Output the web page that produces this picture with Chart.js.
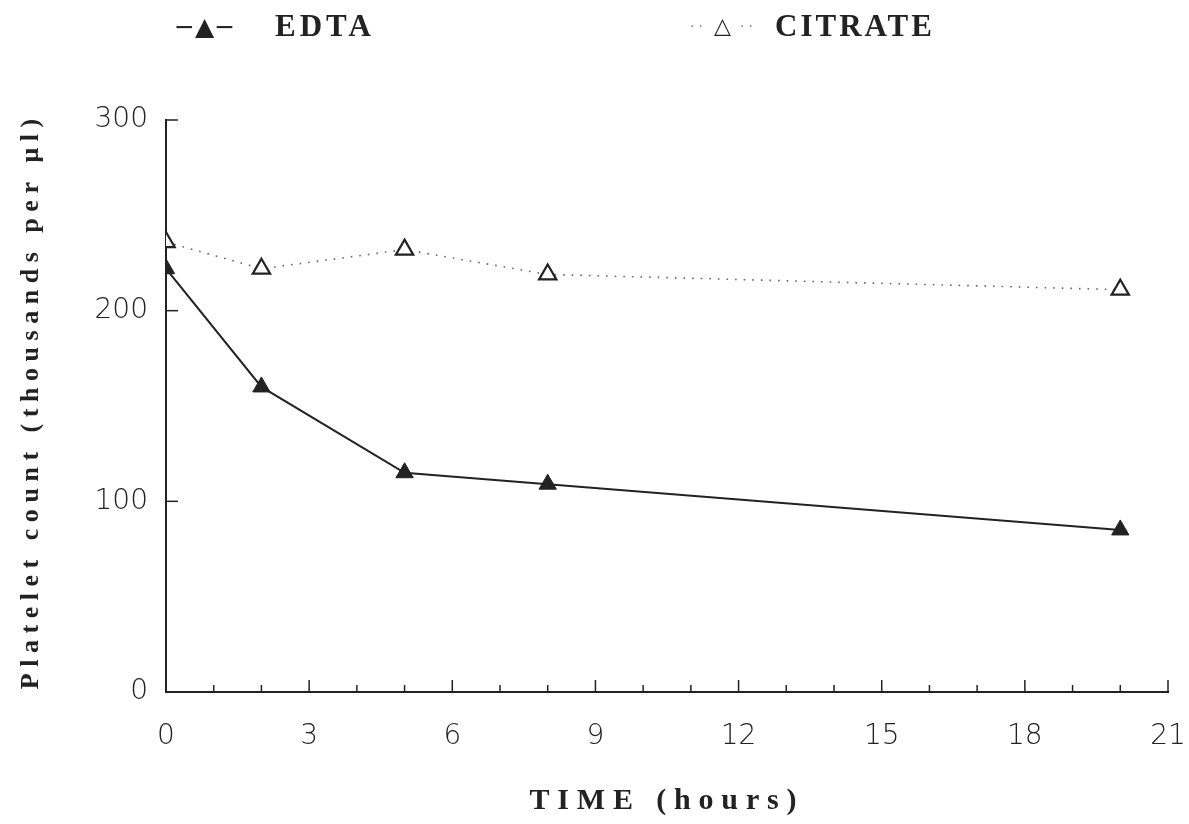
<!DOCTYPE html>
<html>
<head>
<meta charset="utf-8">
<script src="https://cdn.jsdelivr.net/npm/chart.js@4.4.1/dist/chart.umd.min.js"></script>
<style>
  html, body { margin: 0; padding: 0; background: #fff; }
  #wrap { position: relative; width: 1189px; height: 824px; }
  canvas { position: absolute; left: 0; top: 0; }
  .leg { position: absolute; top: 9px; font-family: "Liberation Serif", "DejaVu Serif", serif; font-weight: bold; font-size: 31px; color: #222; white-space: nowrap; line-height: 34px; }
  .mk { position: absolute; font-family: "DejaVu Sans", sans-serif; white-space: nowrap; color: #222; line-height: 34px; }
</style>
</head>
<body>
<div id="wrap">
  <canvas id="c" width="1189" height="824"></canvas>
  <div class="mk" style="left:174px;top:10px;font-size:25px;">−▲−</div>
  <div class="leg" style="left:275px;letter-spacing:4px;">EDTA</div>
  <div class="mk" style="left:690px;top:9px;font-size:14px;color:#888;letter-spacing:4px;">··</div>
  <div class="mk" style="left:714px;top:9px;font-size:22px;">△</div>
  <div class="mk" style="left:740px;top:9px;font-size:14px;color:#888;letter-spacing:4px;">··</div>
  <div class="leg" style="left:775px;letter-spacing:3px;">CITRATE</div>
</div>
<script>
const hours = [0, 2, 5, 8, 20];
const edta = [222, 160, 115, 109, 85];
const citrate = [236, 222, 232, 219, 211];
const xTickLabels = [0, 3, 6, 9, 12, 15, 18, 21];
const yTickLabels = [0, 100, 200, 300];
const seriesNames = ['EDTA', 'CITRATE'];
const xTitle = 'TIME (hours)';
const yTitle = 'Platelet count (thousands per μl)';

const ink = '#222';

function spacedText(ctx, text, x, y, target) {
  ctx.letterSpacing = '0px';
  const w = ctx.measureText(text).width;
  const sp = Math.max(0, (target - w) / text.length);
  ctx.letterSpacing = sp + 'px';
  ctx.fillText(text, x + sp / 2, y);
}

const insideTicks = {
  id: 'insideTicks',
  afterDraw(chart) {
    const ctx = chart.ctx;
    const xs = chart.scales.x, ys = chart.scales.y;
    const area = chart.chartArea;
    ctx.save();
    ctx.strokeStyle = ink;
    ctx.lineWidth = 1.5;
    for (let h = xs.min; h <= xs.max; h++) {
      const px = xs.getPixelForValue(h);
      const len = (h % 3 === 0) ? 12 : 7;
      if (h === 0) continue;
      ctx.beginPath();
      ctx.moveTo(px, area.bottom);
      ctx.lineTo(px, area.bottom - len);
      ctx.stroke();
    }
    yTickLabels.forEach(v => {
      if (v === 0) return;
      const py = ys.getPixelForValue(v);
      ctx.beginPath();
      ctx.moveTo(area.left, py);
      ctx.lineTo(area.left + 12, py);
      ctx.stroke();
    });
    // titles
    ctx.fillStyle = ink;
    ctx.textAlign = 'center';
    ctx.textBaseline = 'middle';
    ctx.font = 'bold 30px "Liberation Serif", "DejaVu Serif", serif';
    spacedText(ctx, xTitle, 663, 801, 275);
    ctx.translate(31, 404);
    ctx.rotate(-Math.PI / 2);
    ctx.font = 'bold 26px "Liberation Serif", "DejaVu Serif", serif';
    spacedText(ctx, yTitle, 0, 0, 577);
    ctx.restore();
  }
};

const tickFont = { family: '"DejaVu Sans", sans-serif', size: 28, weight: '200' };

new Chart(document.getElementById('c'), {
  type: 'scatter',
  data: {
    datasets: [
      {
        label: seriesNames[0],
        data: hours.map((h, i) => ({ x: h, y: edta[i] })),
        showLine: true,
        borderColor: ink,
        borderWidth: 2,
        backgroundColor: ink,
        pointStyle: 'triangle',
        pointRadius: 10,
        pointBorderWidth: 1,
        pointBorderColor: ink,
        pointBackgroundColor: ink,
        tension: 0
      },
      {
        label: seriesNames[1],
        data: hours.map((h, i) => ({ x: h, y: citrate[i] })),
        showLine: true,
        borderColor: '#666',
        borderWidth: 1.6,
        borderDash: [1.6, 7],
        pointStyle: 'triangle',
        pointRadius: 10,
        pointBorderWidth: 2.2,
        pointBorderColor: ink,
        pointBackgroundColor: '#fff',
        tension: 0
      }
    ]
  },
  options: {
    responsive: false,
    animation: false,
    layout: { padding: { top: 120, right: 21, left: 0, bottom: 0 } },
    plugins: { legend: { display: false }, tooltip: { enabled: false } },
    scales: {
      x: {
        type: 'linear',
        min: 0, max: 21,
        afterFit(s) { s.height = 132; s.paddingRight = 0; s.paddingLeft = 0; },
        afterBuildTicks(s) { s.ticks = xTickLabels.map(v => ({ value: v })); },
        grid: { display: false, drawTicks: false },
        border: { display: true, color: ink, width: 2 },
        ticks: {
          autoSkip: false,
          padding: 28,
          color: '#222',
          font: tickFont,
          callback: v => String(v)
        }
      },
      y: {
        min: 0, max: 300,
        afterFit(s) { s.width = 166; s.paddingTop = 0; s.paddingBottom = 0; },
        afterBuildTicks(s) { s.ticks = yTickLabels.map(v => ({ value: v })); },
        grid: { display: false, drawTicks: false },
        border: { display: true, color: ink, width: 2 },
        ticks: {
          padding: 18,
          color: '#222',
          font: tickFont,
          callback: v => String(v)
        }
      }
    }
  },
  plugins: [insideTicks]
});
</script>
</body>
</html>
